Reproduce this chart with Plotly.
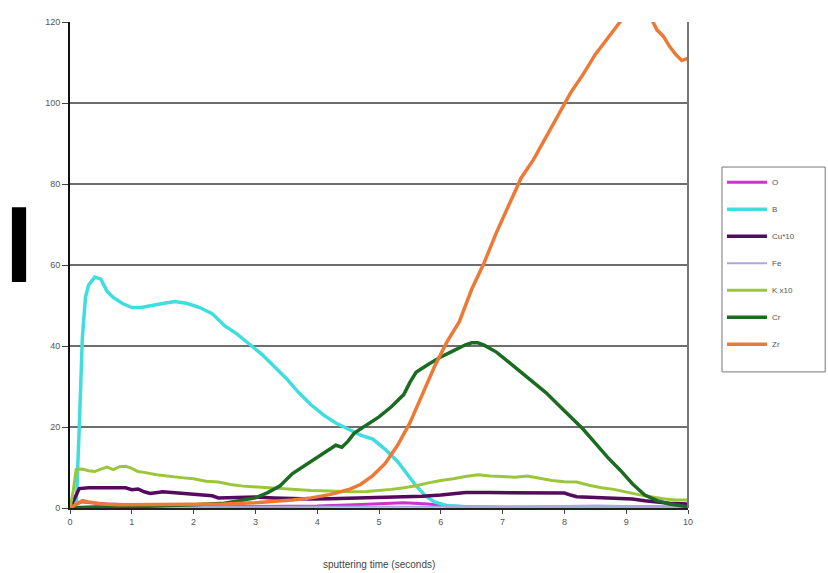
import plotly.graph_objects as go

# Sputtering depth profile: signal vs. sputtering time (seconds)
series_names = ["O", "B", "Cu*10", "Fe", "K x10", "Cr", "Zr"]
series_colors = ["#CC33CC", "#3FDDDD", "#550A5E", "#A8A8E0", "#9CC63A", "#1C6B22", "#EC7A36"]
series_widths = [3, 3.5, 3.5, 2, 3, 3.5, 3.5]

t_O = [0, 0.1, 0.2, 0.4, 0.6, 1, 1.5, 2, 3, 4, 4.6, 5, 5.4, 5.8, 6.1, 6.5, 7, 8, 9, 10]
v_O = [0, 1, 1.5, 1.3, 1, 0.8, 0.6, 0.5, 0.4, 0.5, 0.8, 1.1, 1.3, 1, 0.5, 0.3, 0.2, 0.2, 0.3, 0.3]

t_B = [0, 0.1, 0.15, 0.2, 0.25, 0.3, 0.4, 0.5, 0.6, 0.7, 0.85, 1.0, 1.15, 1.3, 1.5, 1.7,
       1.9, 2.1, 2.3, 2.5, 2.7, 2.9, 3.1, 3.3, 3.5, 3.7, 3.9, 4.1, 4.3, 4.5, 4.7, 4.9,
       5.1, 5.3, 5.45, 5.6, 5.75, 5.9, 6.1, 6.4, 7, 8, 9, 10]
v_B = [0, 0, 20, 42, 52, 55, 57, 56.5, 53.5, 52, 50.5, 49.5, 49.5, 50, 50.5, 51,
       50.5, 49.5, 48, 45, 43, 40.5, 38, 35, 32, 28.5, 25.5, 23, 21, 19.5, 18, 17,
       14.5, 11.5, 8.5, 5.5, 3, 1.5, 0.6, 0.3, 0.2, 0.2, 0.2, 0.2]

t_Cu = [0, 0.1, 0.15, 0.3, 0.5, 0.7, 0.9, 1.0, 1.1, 1.2, 1.3, 1.5, 1.7, 1.9, 2.1, 2.3,
        2.4, 2.7, 3.0, 3.3, 3.6, 3.9, 4.2, 4.5, 4.8, 5.1, 5.4, 5.7, 6.0, 6.2, 6.4, 6.8,
        7.2, 7.6, 8.0, 8.1, 8.2, 8.5, 8.8, 9.1, 9.3, 9.5, 9.7, 10]
v_Cu = [0, 3, 4.8, 5, 5, 4.8, 5, 4.5, 4.7, 4, 3.6, 4, 3.8, 3.4, 3.2, 3,
        2.5, 2.6, 2.7, 2.5, 2.3, 2.2, 2.3, 2.4, 2.5, 2.6, 2.7, 2.9, 3.2, 3.6, 3.8, 3.8,
        3.8, 3.8, 3.7, 3.2, 2.8, 2.6, 2.4, 2.2, 1.8, 1.4, 1.2, 1.0]

t_Fe = [0, 0.1, 0.5, 1, 2, 3, 4, 5, 6, 7, 8, 8.5, 9, 9.5, 10]
v_Fe = [0, 0.3, 0.3, 0.3, 0.2, 0.2, 0.3, 0.3, 0.3, 0.3, 0.5, 0.6, 0.5, 0.4, 0.3]

t_K = [0, 0.05, 0.1, 0.2, 0.3, 0.4, 0.5, 0.6, 0.7, 0.8, 0.9, 1.0, 1.1, 1.2, 1.4, 1.6,
       1.8, 2.0, 2.2, 2.4, 2.6, 2.8, 3.0, 3.3, 3.6, 3.9, 4.2, 4.5, 4.8, 5.0, 5.2, 5.4,
       5.6, 5.8, 6.0, 6.2, 6.4, 6.6, 6.8, 7.0, 7.2, 7.4, 7.6, 7.8, 8.0, 8.2, 8.4, 8.6,
       8.8, 9.0, 9.2, 9.4, 9.6, 9.8, 10]
v_K = [0, 4, 9.5, 9.6, 9.2, 9, 9.6, 10.1, 9.5, 10.2, 10.3, 9.8, 9, 8.8, 8.2, 7.8,
       7.5, 7.2, 6.6, 6.4, 5.8, 5.4, 5.2, 5, 4.6, 4.3, 4.2, 4.0, 4.1, 4.3, 4.6, 5,
       5.5, 6.2, 6.8, 7.2, 7.8, 8.2, 7.9, 7.8, 7.6, 7.9, 7.3, 6.8, 6.5, 6.4, 5.6, 5.0,
       4.6, 3.9, 3.3, 2.8, 2.3, 2.0, 2.0]

t_Cr = [0, 0.5, 1, 1.5, 2, 2.5, 2.8, 3.0, 3.2, 3.4, 3.6, 3.8, 4.0, 4.2, 4.3, 4.4,
        4.5, 4.6, 4.8, 5.0, 5.2, 5.4, 5.5, 5.6, 5.8, 6.0, 6.2, 6.4, 6.5, 6.6, 6.7, 6.9,
        7.1, 7.3, 7.5, 7.7, 7.9, 8.1, 8.3, 8.5, 8.7, 8.9, 9.1, 9.3, 9.5, 9.7, 10]
v_Cr = [0, 0.3, 0.3, 0.5, 0.8, 1.2, 2, 2.5, 3.8, 5.5, 8.5, 10.5, 12.5, 14.5, 15.5, 15,
        16.5, 18.5, 20.5, 22.5, 25, 28, 31, 33.5, 35.5, 37.3, 38.8, 40.3, 40.8, 40.8, 40.2, 38.5,
        36, 33.5, 31, 28.5, 25.5, 22.5, 19.5, 16, 12.5, 9.4, 6, 3.2, 1.8, 1, 0.3]

t_Zr = [0, 0.1, 0.2, 0.3, 0.5, 0.8, 1, 1.5, 2, 2.5, 3, 3.3, 3.6, 3.9, 4.2, 4.5,
        4.7, 4.9, 5.1, 5.3, 5.5, 5.7, 5.9, 6.1, 6.3, 6.5, 6.7, 6.9, 7.1, 7.3, 7.5, 7.7,
        7.9, 8.1, 8.3, 8.5, 8.7, 8.9, 9.1, 9.3, 9.4, 9.5, 9.6, 9.7, 9.8, 9.9, 10]
v_Zr = [0, 1, 1.8, 1.5, 1, 0.8, 0.8, 0.8, 0.9, 1, 1.3, 1.6, 2, 2.5, 3.3, 4.5,
        5.8, 8, 11, 15.5, 21, 28, 35, 41, 46, 54, 60.5, 68, 75, 81.5, 86, 91.5,
        97, 102.5, 107, 112, 116, 120, 123, 122, 121, 118, 116.5, 114, 112, 110.5, 111]

x_ticks = [0, 1, 2, 3, 4, 5, 6, 7, 8, 9, 10]
y_ticks = [0, 20, 40, 60, 80, 100, 120]
x_title = "sputtering time (seconds)"

all_t = [t_O, t_B, t_Cu, t_Fe, t_K, t_Cr, t_Zr]
all_v = [v_O, v_B, v_Cu, v_Fe, v_K, v_Cr, v_Zr]

fig = go.Figure()
for name, color, width, t, v in zip(series_names, series_colors, series_widths, all_t, all_v):
    fig.add_trace(go.Scatter(
        x=t, y=v, name=name, mode="lines", legendgroup=name,
        line=dict(color=color, width=width, shape="linear"),
    ))

font_family = "Liberation Sans, Arial, sans-serif"

fig.update_layout(
    width=828, height=573,
    margin=dict(l=70, r=140, t=22, b=65),
    paper_bgcolor="white", plot_bgcolor="white",
    font=dict(family=font_family, size=9, color="#555555"),
    showlegend=True,
    legend=dict(
        x=1.055, y=0.70, xanchor="left", yanchor="top",
        bgcolor="rgba(0,0,0,0)", borderwidth=0,
        font=dict(size=8, color="#555555"),
        tracegroupgap=8, itemwidth=40,
    ),
    xaxis=dict(
        range=[0, 10], tickvals=x_ticks, ticktext=[str(v) for v in x_ticks],
        showgrid=False, zeroline=False,
        showline=True, linecolor="#222222", linewidth=1.5,
        ticks="outside", ticklen=4, tickcolor="#444444",
        automargin=False,
    ),
    yaxis=dict(
        range=[0, 120], tickvals=y_ticks, ticktext=[str(v) for v in y_ticks],
        showgrid=True, gridcolor="#6e6e6e", gridwidth=1.5,
        zeroline=False,
        showline=True, linecolor="#111111", linewidth=2,
        ticks="outside", ticklen=6, tickcolor="#444444",
        automargin=False,
    ),
)

# frame around the legend, extending to the right edge of the figure
fig.add_shape(type="rect", xref="paper", yref="paper",
              x0=1.055, x1=1.222, y0=0.28, y1=0.7016,
              fillcolor="white", line=dict(color="#777777", width=1), layer="below")

# x-axis title placed under the tick labels
fig.add_annotation(text=x_title, xref="paper", yref="paper", x=0.5, y=-0.117,
                   xanchor="center", yanchor="middle", showarrow=False,
                   font=dict(size=10, color="#444444"))

# right-hand frame edge of the plot area
fig.add_shape(type="line", xref="paper", yref="paper", x0=1, x1=1, y0=0, y1=1,
              line=dict(color="#777777", width=2))

# blacked-out y-axis title
fig.add_shape(type="rect", xref="paper", yref="paper",
              x0=-0.094, x1=-0.071, y0=0.465, y1=0.619,
              fillcolor="black", line=dict(width=0))

fig.write_html("out.html")
